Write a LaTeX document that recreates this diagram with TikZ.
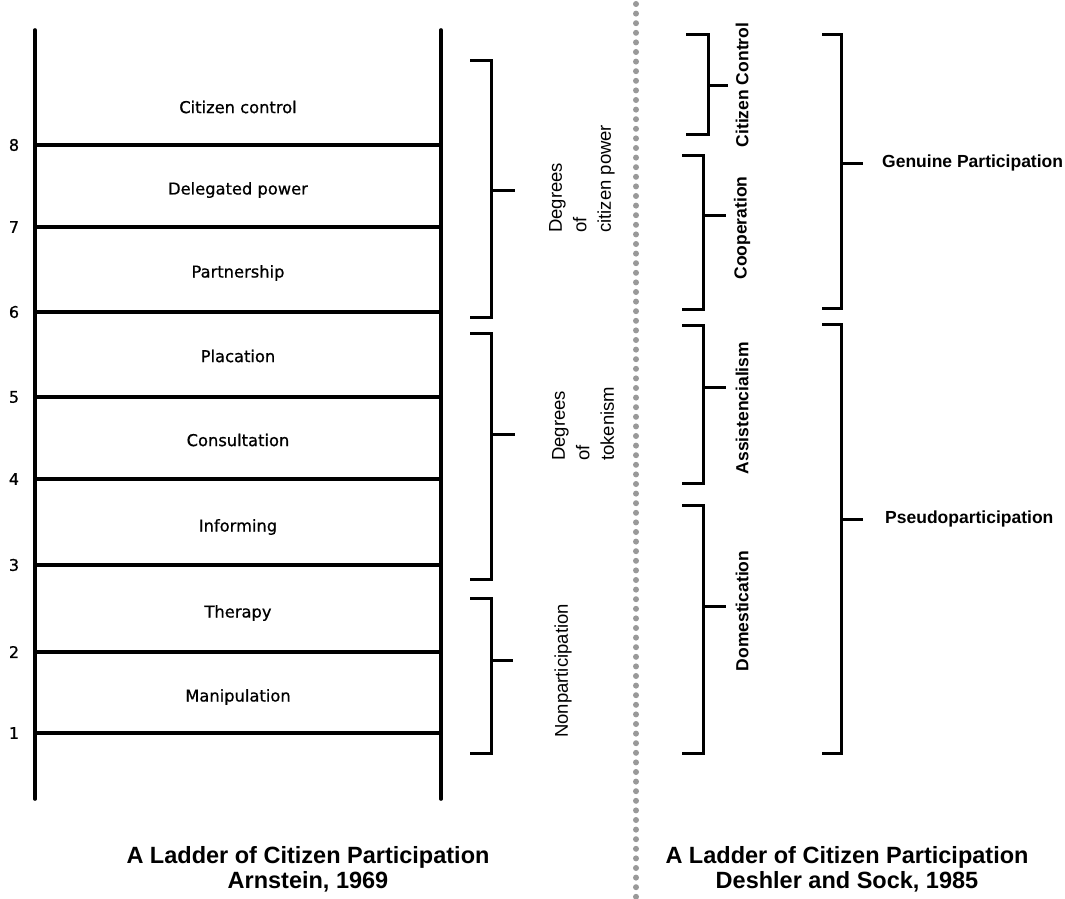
\documentclass[tikz,border=0pt]{standalone}
\usepackage{fontspec}
\setmainfont{Liberation Sans}
\newfontfamily\ladderfont[FakeBold=0.7]{DejaVu Sans}
\begin{document}
\begin{tikzpicture}[x=1pt,y=-1pt,
  rail/.style={line width=3.6pt, line cap=round},
  rung/.style={line width=3.6pt},
  brk/.style={line width=3pt, line join=miter},
  rungtext/.style={font=\ladderfont\fontsize{16.3}{19}\selectfont, inner sep=0pt},
  numtext/.style={font=\ladderfont\fontsize{16}{19}\selectfont, inner sep=0pt},
  grouptext/.style={font=\fontsize{18.5}{24.5}\selectfont, rotate=90, align=left, inner sep=0pt, anchor=west},
  boldlbl/.style={font=\bfseries\fontsize{17.5}{21}\selectfont, inner sep=0pt},
  title/.style={font=\bfseries\fontsize{23.5}{25}\selectfont, align=center, inner sep=0pt},
  dotline/.style={line width=6pt, line cap=round, dash pattern=on 0pt off 9.6pt, color=black!40}
]
\useasboundingbox (0,0) rectangle (1065,899);
\fill[white] (0,0) rectangle (1065,899);

% ---- Ladder (Arnstein) ----
\draw[rail] (35,30) -- (35,799);
\draw[rail] (441,30) -- (441,799);
\foreach \y/\n in {145/8,227/7,312/6,397/5,479/4,565/3,652/2,733/1}{
  \draw[rung] (35,\y) -- (441,\y);
  \node[numtext] (num\n) at (14,\y) {\n};
}
\node[rungtext] (r8) at (238,107) {Citizen control};
\node[rungtext] (r7) at (238,190) {Delegated power};
\node[rungtext] (r6) at (238,273) {Partnership};
\node[rungtext] (r5) at (238,356) {Placation};
\node[rungtext] (r4) at (238,440) {Consultation};
\node[rungtext] (r3) at (238,527) {Informing};
\node[rungtext] (r2) at (238,613) {Therapy};
\node[rungtext] (r1) at (238,697) {Manipulation};

% ---- Left group brackets ----
\draw[brk] (470,61) -- (491,61) -- (491,317) -- (470,317);
\draw[brk] (491,190) -- (515,190);
\draw[brk] (470,333) -- (491,333) -- (491,579) -- (470,579);
\draw[brk] (491,434) -- (515,434);
\draw[brk] (470,598) -- (491,598) -- (491,753) -- (470,753);
\draw[brk] (491,660) -- (513,660);

\node[grouptext] (gpower) at (582,233) {Degrees\\of\\citizen power};
\node[grouptext] (gtoken) at (583,461) {Degrees\\of\\tokenism};
\node[grouptext] (gnon) at (563,738) {Nonparticipation};

% ---- Dotted divider ----
\draw[dotline] (636,4) -- (636,899);

% ---- Right brackets (Deshler and Sock) ----
\draw[brk] (686,35) -- (708,35) -- (708,134) -- (686,134);
\draw[brk] (708,85) -- (728,85);
\draw[brk] (682,155) -- (703,155) -- (703,309) -- (682,309);
\draw[brk] (703,215) -- (726,215);
\draw[brk] (682,325) -- (703,325) -- (703,483) -- (682,483);
\draw[brk] (703,387) -- (726,387);
\draw[brk] (682,505) -- (703,505) -- (703,753) -- (682,753);
\draw[brk] (703,606) -- (726,606);

\node[boldlbl, rotate=90] (lcc) at (742,85) {Citizen Control};
\node[boldlbl, rotate=90] (lcoop) at (742,228) {Cooperation};
\node[boldlbl, rotate=90] (lassist) at (742,408) {Assistencialism};
\node[boldlbl, rotate=90] (ldom) at (742,611) {Domestication};

\draw[brk] (822,35) -- (841,35) -- (841,308) -- (822,308);
\draw[brk] (841,163) -- (863,163);
\draw[brk] (822,324) -- (841,324) -- (841,753) -- (822,753);
\draw[brk] (841,519) -- (863,519);

\node[boldlbl, anchor=west] (lgen) at (882,163) {Genuine Participation};
\node[boldlbl, anchor=west] (lpseudo) at (885,519) {Pseudoparticipation};

% ---- Titles ----
\node[title] (tleft) at (308,869) {A Ladder of Citizen Participation\\Arnstein, 1969};
\node[title] (tright) at (847,869) {A Ladder of Citizen Participation\\Deshler and Sock, 1985};
\end{tikzpicture}
\end{document}
